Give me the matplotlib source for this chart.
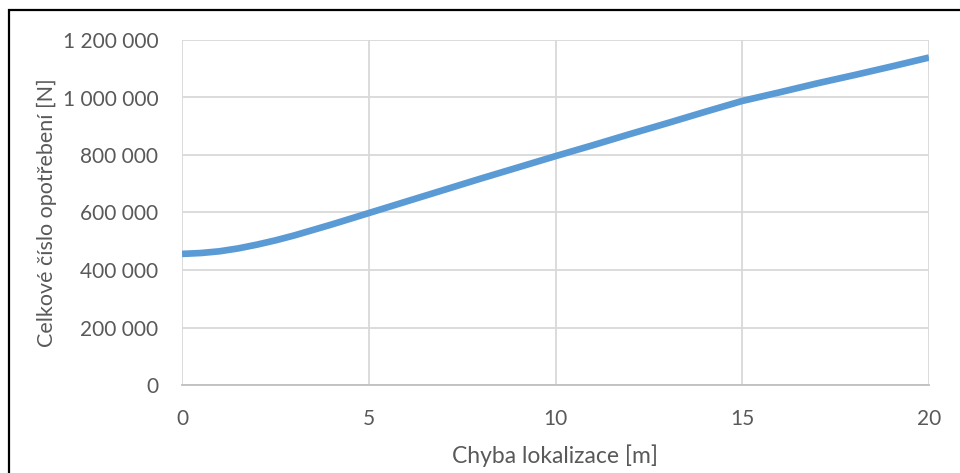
import matplotlib
matplotlib.use("Agg")
import matplotlib.pyplot as plt
from matplotlib.patches import Rectangle
from matplotlib.ticker import FuncFormatter

# Localisation error [m] and total wear number [N]
chyba = [0, 0.5, 1, 1.5, 2, 2.5, 3, 3.5, 4, 5, 6, 7, 8, 9, 10,
         11, 12, 13, 14, 15, 16, 17, 18, 19, 20]
opotrebeni = [456000, 459000, 465000, 475000, 488000, 503000, 520000,
              539000, 558000, 598000, 638000, 678000, 718000, 757000,
              796000, 834000, 873000, 911000, 950000, 988000, 1018000,
              1049000, 1078000, 1108000, 1139000]

x_ticks = [0, 5, 10, 15, 20]
y_ticks = [0, 200000, 400000, 600000, 800000, 1000000, 1200000]

text_color = "#595959"
grid_color = "#D9D9D9"
line_color = "#5B9BD5"

plt.rcParams["font.family"] = ["Lato", "DejaVu Sans"]

fig = plt.figure(figsize=(9.6, 4.73), dpi=100)
ax = fig.add_axes([182 / 960, 1 - 385 / 473, (929 - 182) / 960, (385 - 40) / 473])

ax.plot(chyba, opotrebeni, color=line_color, lw=4.8,
        solid_capstyle="butt", solid_joinstyle="round", zorder=3)

ax.set_xlim(0, 20)
ax.set_ylim(0, 1200000)
ax.set_xticks(x_ticks)
ax.set_yticks(y_ticks)


def space_thousands(v, _pos):
    return f"{int(round(v)):,}".replace(",", " ")


ax.yaxis.set_major_formatter(FuncFormatter(space_thousands))
ax.grid(True, color=grid_color, lw=1.3, zorder=0)
for side in ("top", "right", "left"):
    ax.spines[side].set_visible(False)
ax.spines["bottom"].set_color("#BFBFBF")
ax.spines["bottom"].set_linewidth(1.3)

ax.tick_params(axis="both", length=0, labelsize=15, colors=text_color)
ax.tick_params(axis="y", pad=17)
ax.tick_params(axis="x", pad=17)

ax.set_xlabel("Chyba lokalizace [m]", fontsize=16.5, color=text_color, labelpad=11)
ax.set_ylabel("Celkové číslo opotřebení [N]", fontsize=15.5, color=text_color, labelpad=4)

# Outer frame of the chart area
fig.patches.append(Rectangle((8.5 / 960, -0.05), 1.2, 1 - 10.5 / 473 + 0.05,
                             transform=fig.transFigure, fill=False,
                             edgecolor="black", lw=1.6, clip_on=False))

fig.savefig("out.png", dpi=100, facecolor="white")
